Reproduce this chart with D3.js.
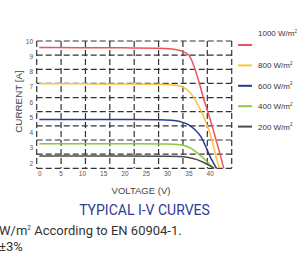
<!DOCTYPE html>
<html><head><meta charset="utf-8">
<script src="https://cdn.jsdelivr.net/npm/d3@7"></script>
<style>html,body{margin:0;padding:0;background:#fff;overflow:hidden}</style>
</head><body><svg id="c" width="303" height="258"></svg>
<script>
const series = ["1000 W/m", "800 W/m", "600 W/m", "400 W/m", "200 W/m"];
const colors = ["#f0525c", "#fcc43c", "#2b3990", "#8dc63f", "#4a4a4a"];
const curve1000 = [[0,9.57],[10,9.56],[20,9.55],[28,9.53],[31,9.48],[33,9.38],[34.5,9.2],[35.5,8.9],[36.5,8.2],[37.5,7.3],[38.5,6.3],[39.5,5.4],[40.5,4.5],[41.5,3.5],[42.5,2.5],[43.3,1.65]];
const curve800 = [[0,7.2],[10,7.19],[20,7.18],[28,7.16],[31,7.13],[33,7.05],[34.5,6.85],[36,6.4],[37,5.95],[38,5.4],[39,4.75],[40,4.0],[41,2.95],[42,1.9],[42.3,1.65]];
const curve600 = [[0,4.86],[10,4.86],[20,4.85],[28,4.83],[31,4.8],[33,4.72],[35,4.52],[36.5,4.2],[38,3.7],[39.2,3.0],[40.2,2.35],[41.2,1.85],[41.6,1.65]];
const curve400 = [[0,3.27],[10,3.27],[20,3.26],[30,3.24],[33,3.2],[35,3.05],[36.5,2.8],[38,2.45],[39.5,2.05],[40.6,1.75],[41.1,1.65]];
const curve200 = [[0,2.46],[20,2.46],[30,2.45],[33,2.43],[35,2.36],[37,2.22],[38.5,2.05],[40,1.83],[41,1.65]];
const curves = [curve1000, curve800, curve600, curve400, curve200];
const xTicks = [0,5,10,15,20,25,30,35,40];
const yTicks = [2,3,4,5,6,7,8,9,10];
const gridCols = 8, gridRows = 9;

const svg = d3.select("#c");
const L = 36.7, R = 231.7, T = 41, B = 168.3;
const x = d3.scaleLinear().domain([0,40]).range([39.3,209.7]);
const y = d3.scaleLinear().domain([2,10]).range([163,41]);
const gx = d3.scaleLinear().domain([0,gridCols]).range([L,R]);
const gy = d3.scaleLinear().domain([0,gridRows]).range([T,B]);

const grid = svg.append("g").attr("stroke","#333").attr("stroke-width",1.2).attr("stroke-dasharray","6,3").attr("fill","none");
grid.selectAll("line.h").data(d3.range(gridRows+1)).join("line").attr("class","h")
  .attr("x1",L).attr("x2",R).attr("y1",d=>gy(d)).attr("y2",d=>gy(d));
grid.selectAll("line.v").data(d3.range(gridCols+1)).join("line").attr("class","v")
  .attr("y1",T).attr("y2",B).attr("x1",d=>gx(d)).attr("x2",d=>gx(d));

const line = d3.line().x(d=>x(d[0])).y(d=>y(d[1])).curve(d3.curveMonotoneX);
svg.append("g").selectAll("path").data(curves).join("path")
  .attr("d",line).attr("fill","none").attr("stroke",(d,i)=>colors[i]).attr("stroke-width",1.5);

const ya = svg.append("g").attr("transform","translate(33,0)")
  .call(d3.axisLeft(y).tickValues(yTicks).tickSize(0).tickPadding(0));
ya.select(".domain").remove();
ya.selectAll("text").attr("font-family","Liberation Sans, Arial").attr("font-size",6.5).attr("fill","#555");
const xa = svg.append("g").attr("transform","translate(0,171)")
  .call(d3.axisBottom(x).tickValues(xTicks).tickSize(0).tickPadding(0));
xa.select(".domain").remove();
xa.selectAll("text").attr("font-family","Liberation Sans, Arial").attr("font-size",6.5).attr("fill","#555");

svg.append("text").attr("transform","translate(21.5,101.5) rotate(-90)").attr("text-anchor","middle")
  .attr("font-family","Liberation Sans, Arial").attr("font-size",9.8).attr("fill","#444").text("CURRENT [A]");
svg.append("text").attr("x",141).attr("y",194).attr("text-anchor","middle")
  .attr("font-family","Liberation Sans, Arial").attr("font-size",9.5).attr("fill","#444").text("VOLTAGE (V)");

const leg = svg.append("g");
series.forEach((s,i)=>{
  const sy = 45 + i*20.4;
  leg.append("line").attr("x1",238).attr("x2",252).attr("y1",sy).attr("y2",sy)
    .attr("stroke",colors[i]).attr("stroke-width",2);
  const t = leg.append("text").attr("x",258).attr("y",(i===0? sy-12: sy)+3)
    .attr("font-family","Liberation Sans, Arial").attr("font-size",8).attr("fill","#333");
  t.append("tspan").text(s);
  t.append("tspan").attr("font-size",4.5).attr("dy",-3.5).text("2");
});

svg.append("text").attr("x",144.5).attr("y",215).attr("text-anchor","middle")
  .attr("font-family","Roboto, sans-serif").attr("font-size",14).attr("fill","#2e3b97").text("TYPICAL I-V CURVES");
const f = svg.append("text").attr("x",-1).attr("y",235)
  .attr("font-family","Roboto, sans-serif").attr("font-size",13).attr("fill","#333");
f.append("tspan").text("W/m");
f.append("tspan").attr("font-size",6.5).attr("dy",-5.5).text("2");
f.append("tspan").attr("dy",5.5).text(" According to EN 60904-1.");
svg.append("text").attr("x",-1).attr("y",251)
  .attr("font-family","Roboto, sans-serif").attr("font-size",13).attr("fill","#333").text("±3%");
</script></body></html>
